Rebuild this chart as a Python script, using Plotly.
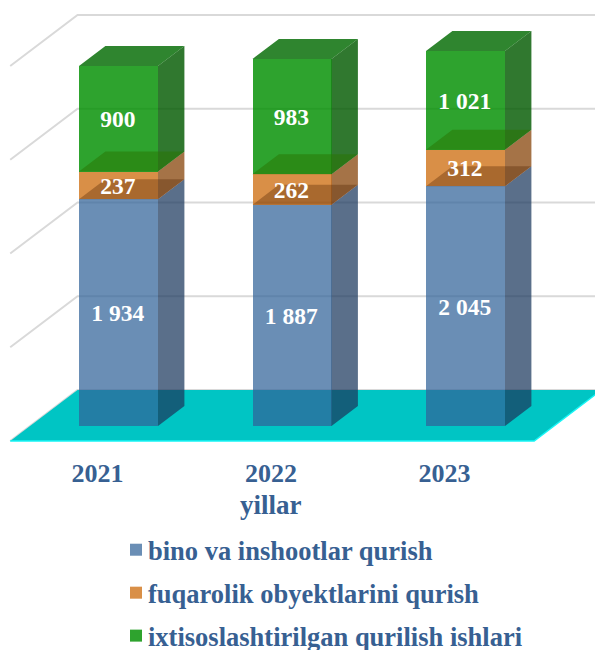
import plotly.graph_objects as go

years = ["2021", "2022", "2023"]
axis_title = "yillar"
names = ["bino va inshootlar qurish", "fuqarolik obyektlarini qurish", "ixtisoslashtirilgan qurilish ishlari"]
bino = [1934, 1887, 2045]
fuqarolik = [237, 262, 312]
ixtisos = [900, 983, 1021]
series = [bino, fuqarolik, ixtisos]

axis_max = 3200
grid_step = 800

front_colors = ["rgba(48,98,153,0.72)", "rgba(203,100,0,0.72)", "rgba(0,143,0,0.82)"]
side_colors = ["rgba(26,56,93,0.72)", "rgba(130,61,0,0.72)", "rgba(2,90,1,0.82)"]
inner_top_colors = ["rgba(80,34,0,0.35)", "rgba(40,115,0,0.5)", "rgba(1,106,1,0.82)"]
TXT = "#376092"
FONT = "Liberation Serif"

# pixel scale of the axes
W, H = 595, 650
plot_bottom = 455
px_per_unit_y = 375 / axis_max
px_per_cat = 173.5
x0_px, y0_px = 118.5, 426
x_range = [(0 - x0_px) / px_per_cat, (W - x0_px) / px_per_cat]
y_range = [-(plot_bottom - y0_px) / px_per_unit_y, y0_px / px_per_unit_y]
bar_w = 79 / px_per_cat
SLANT = 1.32
LABEL_DROP = 2.5 / px_per_unit_y


def proj(x, v, depth):
    """oblique projection: depth in px behind the front plane"""
    return x + depth * SLANT / px_per_cat, v + depth / px_per_unit_y


def path(pts):
    out = []
    for i, (x, y) in enumerate(pts):
        out.append(f"{'M' if i == 0 else 'L'} {x} {y}")
    return " ".join(out) + " Z"


def line_path(pts):
    return " ".join(f"{'M' if i == 0 else 'L'} {x} {y}" for i, (x, y) in enumerate(pts))


def paper_y(py):
    return (plot_bottom - py) / plot_bottom


BAR_D = 20
BACK_D = 36
FRONT_D = -15
XL, XR = -0.51, 2.51

fig = go.Figure()
shapes = []

floor = [proj(XL, 0, FRONT_D), proj(XR, 0, FRONT_D), proj(XR, 0, BACK_D), proj(XL, 0, BACK_D)]
for v in range(0, axis_max + 1, grid_step):
    pts = [proj(XL, v, FRONT_D), proj(XL, v, BACK_D), proj(XR, v, BACK_D)]
    shapes.append(dict(type="path", path=line_path(pts), xref="x", yref="y", layer="below",
                       line=dict(color="#D9D9D9", width=2)))
shapes.append(dict(type="path", path=path(floor), xref="x", yref="y", layer="below",
                   fillcolor="#00C5C4", line=dict(width=0)))
shapes.append(dict(type="path", path=line_path([floor[0], floor[1], floor[2]]), xref="x", yref="y",
                   layer="below", line=dict(color="#19F5F5", width=1.5)))

# stacked front faces, clipped at the axis maximum
cum = [0, 0, 0]
bottoms, tops = [], []
for s, name, col in zip(series, names, front_colors):
    b = list(cum)
    t = [min(c + v, axis_max) for c, v in zip(cum, s)]
    bottoms.append(b)
    tops.append(t)
    fig.add_trace(go.Bar(x=[0, 1, 2], y=[tt - bb for tt, bb in zip(t, b)], width=bar_w, name=name,
                         marker=dict(color=col, line=dict(width=0)), hoverinfo="skip",
                         legendgroup=name))
    cum = [c + v for c, v in zip(cum, s)]


def faces(polys, color):
    xs, ys = [], []
    for p in polys:
        xs += [q[0] for q in p] + [p[0][0], None]
        ys += [q[1] for q in p] + [p[0][1], None]
    fig.add_trace(go.Scatter(x=xs, y=ys, mode="lines", fill="toself", fillcolor=color,
                             line=dict(width=0), showlegend=False, hoverinfo="skip"))


for k in range(3):
    polys = []
    for i in range(3):
        xr = i + bar_w / 2
        polys.append([proj(xr, bottoms[k][i], 0), proj(xr, bottoms[k][i], BAR_D),
                      proj(xr, tops[k][i], BAR_D), proj(xr, tops[k][i], 0)])
    faces(polys, side_colors[k])
for k in range(3):
    polys = []
    for i in range(3):
        xl, xr = i - bar_w / 2, i + bar_w / 2
        polys.append([proj(xl, tops[k][i], 0), proj(xr, tops[k][i], 0),
                      proj(xr, tops[k][i], BAR_D), proj(xl, tops[k][i], BAR_D)])
    faces(polys, inner_top_colors[k])


def fmt(v):
    return f"{v:,}".replace(",", " ")


for k, s in enumerate(series):
    fig.add_trace(go.Scatter(x=[-0.004, 0.996, 1.996],
                             y=[(bottoms[k][i] + tops[k][i]) / 2 - LABEL_DROP for i in range(3)],
                             mode="text", text=[fmt(v) for v in s], textposition="middle center",
                             textfont=dict(family=FONT, size=23.5, color="white", weight="bold"),
                             showlegend=False, hoverinfo="skip"))

tick_off = 21 / px_per_cat
fig.update_layout(
    width=W, height=H, barmode="stack", showlegend=True,
    margin=dict(l=0, r=0, t=0, b=H - plot_bottom, autoexpand=False),
    paper_bgcolor="white", plot_bgcolor="rgba(0,0,0,0)", shapes=shapes,
    xaxis=dict(range=x_range, showgrid=False, zeroline=False, showline=False, ticks="",
               tickmode="array", tickvals=[i - tick_off for i in range(3)], ticktext=years,
               tickfont=dict(family=FONT, size=26, color=TXT, weight="bold"), fixedrange=True),
    yaxis=dict(range=y_range, visible=False, fixedrange=True),
    legend=dict(x=108 / W, xanchor="left", y=paper_y(526), yanchor="top", traceorder="grouped",
                tracegroupgap=5.5, bgcolor="rgba(0,0,0,0)", borderwidth=0,
                font=dict(family=FONT, size=26.5, color=TXT, weight="bold"), itemclick=False,
                itemdoubleclick=False),
    annotations=[dict(text=axis_title, x=1 - tick_off, xref="x", y=paper_y(505), yref="paper",
                      showarrow=False, xanchor="center", yanchor="middle",
                      font=dict(family=FONT, size=27, color=TXT, weight="bold"))],
)
post = ("document.body.style.margin='0';"
        "document.querySelectorAll('.legendsymbols').forEach(function(g){"
        "g.setAttribute('transform','translate(8,0)');});")
fig.write_html("out.html", config=dict(displayModeBar=False), post_script=post)
